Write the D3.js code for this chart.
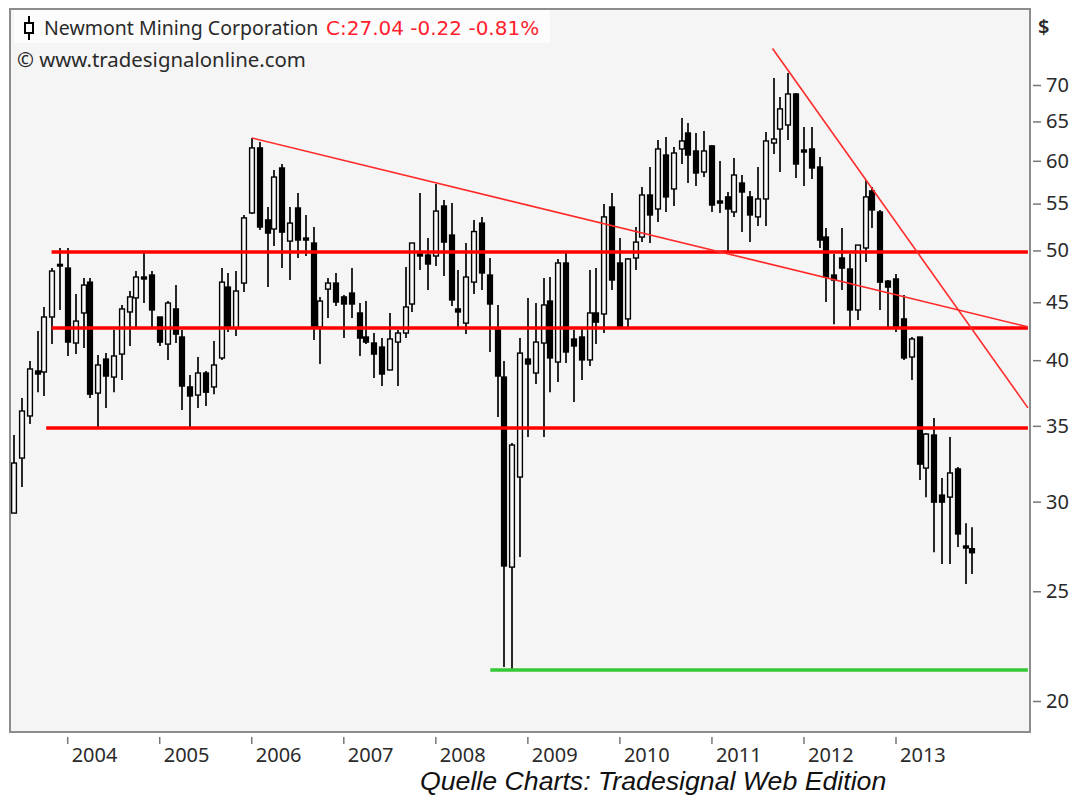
<!DOCTYPE html>
<html>
<head>
<meta charset="utf-8">
<script src="https://cdn.jsdelivr.net/npm/d3@7"></script>
<style>
  html, body { margin: 0; padding: 0; background: #fff; }
  svg { display: block; }
  text { font-family: "Noto Sans", sans-serif; fill: #2a2a2a; }
</style>
</head>
<body>
<div class="chart"></div>
<script>
// monthly candles, Jun 2003 - Nov 2013
const opens = [29.31,32.78,35.71,39.13,39.05,43.67,48.6,
  48.24,41.42,44.03,46.88,37.41,40.09,38.65,40.5,44.12,45.4,47.37,47.56,
  43.67,41.33,44.39,41.93,37.88,37.26,38.97,37.88,40.18,46.41,42.7,46.79,
  53.96,61.59,53.2,52.23,59.13,50.96,54.51,51.28,50.76,42.79,46.22,46.79,
  45.49,45.85,44.03,41.93,41.42,41.08,39.21,41.5,42.27,44.84,49.64,49.54,
  49.44,54.73,51.59,44.39,43.13,46.88,52.86,47.56,42.53,38.65,26.26,31.54,
  40.09,38.97,41.42,45.11,39.85,48.74,41.76,41.93,40.02,44.03,43.94,54.62,
  48.74,43.5,49.24,51.38,55.97,54.4,60.71,56.66,61.46,63.49,61.21,58.65,
  61.84,55.29,55.75,54.07,57.35,55.75,53.53,55.52,62.21,64,64.53,68.73,
  61.33,61.46,59.25,51.38,47.56,49.24,48.15,44.3,50.25,56.43,54.07,46.98,
  47.18,43.5,40.26,41.93,32.12,34.35,30.4,30.28,32.06,27.41,27.26];
const highs = [34.35,37.03,39.93,42.44,44.57,48.24,50.25,
  50.25,45.76,47.27,47.27,40.42,40.58,42.53,44.75,46.04,47.95,49.74,47.95,
  43.67,45.11,46.6,42.53,38.81,40.26,39.13,41.59,48.24,47.76,47.95,53.74,
  62.85,62.34,54.62,58.89,59.61,54.62,56.2,53.74,52.44,45.49,47.27,47.76,
  45.67,48.24,44.93,45.11,42.27,41.84,44.03,42.53,48.34,50.76,56.2,51.28,
  57.23,55.4,55.06,48.05,50.76,53.2,53.53,49.24,44.75,39.93,33.8,41.84,
  45.4,44.93,47.27,47.37,49.14,49.74,42.53,42.79,48.05,48.24,54.95,56.2,
  51.28,49.24,52.44,56.89,59.25,62.6,62.98,61.71,65.46,64.79,63.49,63.75,
  61.96,59.98,56.31,60.34,58.29,56.43,59.25,63.62,71,68.3,71.74,68.87,
  64.27,64.27,60.46,52.33,49.64,52.33,49.64,50.55,57.7,56.89,54.29,47.08,
  47.66,45.67,41.93,41.93,34.49,35.57,31.48,34.21,32.19,28.71,28.48];
const lows = [29.31,30.9,35.13,37.48,37.19,41.33,44.3,
  40.34,40.5,41,37.04,34.85,36.29,37.48,38.42,41.17,42.79,44.93,42.79,
  41.17,40.02,41.42,36.14,34.92,36.29,36.44,37.33,40.02,42.35,42.01,45.95,
  53.85,52.12,46.41,50.45,48.24,47.08,49.24,49.44,41.67,39.69,43.58,44.66,
  41.84,43.58,40.34,41.33,38.57,37.95,39.21,37.95,41.84,44.12,48.05,46.13,
  48.44,47.46,44.66,42.79,42.18,45.76,46.13,40.67,35.63,21.43,21.34,26.8,
  34.21,38.11,34.21,37.48,38.26,39.77,36.73,38.42,39.53,41.33,42.27,46.13,
  42.79,42.79,48.05,50.86,50.76,52.97,54.07,54.73,59.61,57.35,57,58.05,
  54.07,53.96,49.84,53.53,51.9,50.86,52.55,52.55,60.83,58.65,62.6,57.94,
  57,57.82,50.25,45.02,43.04,46.13,42.79,43.41,48.84,52.33,44.3,42.79,
  42.35,40.02,38.42,31.35,30.27,27.06,26.43,26.43,27.35,25.37,25.89];
const closes = [32.45,36.07,39.29,38.89,43.67,47.95,48.44,
  41.5,43.31,46.6,37.33,39.61,38.73,40.34,44.39,45.49,47.37,47.18,44.3,
  41.5,44.93,42.18,37.95,37.19,38.97,37.48,39.61,46.88,42.79,46.04,53.42,
  61.59,52.44,51.8,58.05,51.9,52.86,51.07,51.07,42.79,45.11,46.79,45.02,
  44.84,44.84,41.84,41.5,40.5,38.89,41.76,42.27,44.57,50.76,49.44,48.64,
  54.17,50.86,45.21,44.12,47.37,51.96,47.76,44.84,38.73,26.32,33.66,40.58,
  39.69,41.5,44.75,40.18,48.74,40.67,41.17,40.02,44.03,43.22,53.53,47.08,
  42.79,49.14,50.86,55.97,53.74,61.46,55.75,60.96,62.47,60.71,58.53,61.21,
  54.84,55.06,54.4,58.29,56.31,53.74,55.52,62.47,62.72,66.68,68.73,59.61,
  61.08,59.13,51.07,47.37,47.08,48.24,44.3,50.55,55.75,54.29,46.88,46.41,
  42.79,40.18,41.76,32.38,34.42,29.97,29.97,31.8,28.09,27.3,27.04];

const priceTicks = [20,25,30,35,40,45,50,55,60,65,70];
const yearLabels = ["2004","2005","2006","2007","2008","2009","2010","2011","2012","2013"];
const yearIndex = [7,19,31,43,55,67,79,91,103,115];

// support / resistance levels and the two falling trend lines
const levels = [
  {price: 49.84, from: 4.9},
  {price: 42.7, from: 4.9},
  {price: 34.85, from: 4.2}
];
const supportLevel = {price: 21.3, from: 62.1};
const trendLines = [
  [[31, 62.85], [132.2, 42.8]],
  [[98.9, 75.4], [132.2, 36.3]]
];

const width = 1070, height = 796;
const plot = {left: 10, top: 9, right: 1030, bottom: 732};

const x = d3.scaleLinear().domain([0, 125]).range([14, 972.7]);
const y = d3.scaleLog().domain([20, 70]).range([701, 85]);
const snap = i => Math.round(x(i) / 2) * 2;
const lastIndex = 132.2;

const svg = d3.select(".chart").append("svg")
    .attr("width", width)
    .attr("height", height);

svg.append("rect")
    .attr("x", plot.left)
    .attr("y", plot.top)
    .attr("width", plot.right - plot.left)
    .attr("height", plot.bottom - plot.top)
    .attr("fill", "#f5f5f5")
    .attr("stroke", "#8c8c8c")
    .attr("stroke-width", 2);

// title band
svg.append("rect")
    .attr("x", 14).attr("y", 10)
    .attr("width", 536).attr("height", 33)
    .attr("fill", "#fcfcfc");

const candles = d3.range(opens.length).map(i => ({
    i: i, open: opens[i], high: highs[i], low: lows[i], close: closes[i]
}));

const candle = svg.append("g").attr("class", "candles")
  .selectAll("g")
  .data(candles)
  .enter().append("g");

candle.append("line")
    .attr("x1", d => snap(d.i))
    .attr("x2", d => snap(d.i))
    .attr("y1", d => y(d.high))
    .attr("y2", d => y(d.low))
    .attr("stroke", "#111")
    .attr("stroke-width", 1.8);

candle.append("rect")
    .attr("x", d => snap(d.i) - 2.4)
    .attr("width", 4.8)
    .attr("y", d => y(Math.max(d.open, d.close)))
    .attr("height", d => Math.abs(y(d.open) - y(d.close)))
    .attr("fill", d => d.close > d.open ? "#fafafa" : "#000")
    .attr("stroke", "#000")
    .attr("stroke-width", 1.4);

// horizontal levels
svg.append("g").selectAll("line")
  .data(levels)
  .enter().append("line")
    .attr("x1", d => x(d.from))
    .attr("x2", x(lastIndex))
    .attr("y1", d => y(d.price))
    .attr("y2", d => y(d.price))
    .attr("stroke", "#ff0000")
    .attr("stroke-width", 3.6);

svg.append("line")
    .attr("x1", x(supportLevel.from))
    .attr("x2", x(lastIndex))
    .attr("y1", y(supportLevel.price))
    .attr("y2", y(supportLevel.price))
    .attr("stroke", "#35c935")
    .attr("stroke-width", 3.4);

const trend = d3.line().x(d => x(d[0])).y(d => y(d[1]));
svg.append("g").selectAll("path")
  .data(trendLines)
  .enter().append("path")
    .attr("d", trend)
    .attr("fill", "none")
    .attr("stroke", "#ff2a2a")
    .attr("stroke-width", 1.6);

// price axis
const yAxis = svg.append("g")
    .attr("class", "axis y-axis")
    .attr("transform", "translate(" + (plot.right + 3) + ",0)")
    .call(d3.axisRight(y).tickValues(priceTicks).tickFormat(d3.format("d")).tickSize(8).tickPadding(5));
yAxis.select(".domain").remove();
yAxis.selectAll("line").attr("stroke", "#777").attr("stroke-width", 1.5);
yAxis.selectAll("text").attr("font-size", 20).attr("font-family", '"Noto Sans", sans-serif');

// year axis
const xAxis = svg.append("g").attr("class", "axis x-axis");
xAxis.selectAll("line")
  .data(yearIndex)
  .enter().append("line")
    .attr("x1", d => x(d))
    .attr("x2", d => x(d))
    .attr("y1", 737)
    .attr("y2", 744)
    .attr("stroke", "#777")
    .attr("stroke-width", 1.5);
xAxis.selectAll("text")
  .data(yearIndex)
  .enter().append("text")
    .attr("x", d => x(d) + 4)
    .attr("y", 762)
    .attr("font-size", 20)
    .text((d, i) => yearLabels[i]);

svg.append("text")
    .attr("x", 1038).attr("y", 34)
    .attr("font-size", 20)
    .attr("font-weight", 600)
    .text("$");

// legend glyph: small candle
const glyphX = 29;
svg.append("line")
    .attr("x1", glyphX).attr("x2", glyphX)
    .attr("y1", 16).attr("y2", 40)
    .attr("stroke", "#000").attr("stroke-width", 2);
svg.append("rect")
    .attr("x", glyphX - 4).attr("y", 23)
    .attr("width", 8).attr("height", 10)
    .attr("fill", "#fcfcfc")
    .attr("stroke", "#000").attr("stroke-width", 2);

svg.append("text")
    .attr("x", 44).attr("y", 35)
    .attr("font-size", 19.5)
    .text("Newmont Mining Corporation");
svg.append("text")
    .attr("x", 326).attr("y", 35)
    .attr("font-size", 20)
    .style("font-family", '"DejaVu Sans", sans-serif')
    .style("fill", "#ff1f2f")
    .text("C:27.04 -0.22 -0.81%");

svg.append("text")
    .attr("x", 17).attr("y", 67)
    .attr("font-size", 20.4)
    .text("\u00a9 www.tradesignalonline.com");

svg.append("text")
    .attr("x", 420).attr("y", 790)
    .attr("font-size", 26.7)
    .attr("font-style", "italic")
    .style("font-family", '"Liberation Sans", sans-serif')
    .style("fill", "#111")
    .text("Quelle Charts: Tradesignal Web Edition");
</script>
</body>
</html>
